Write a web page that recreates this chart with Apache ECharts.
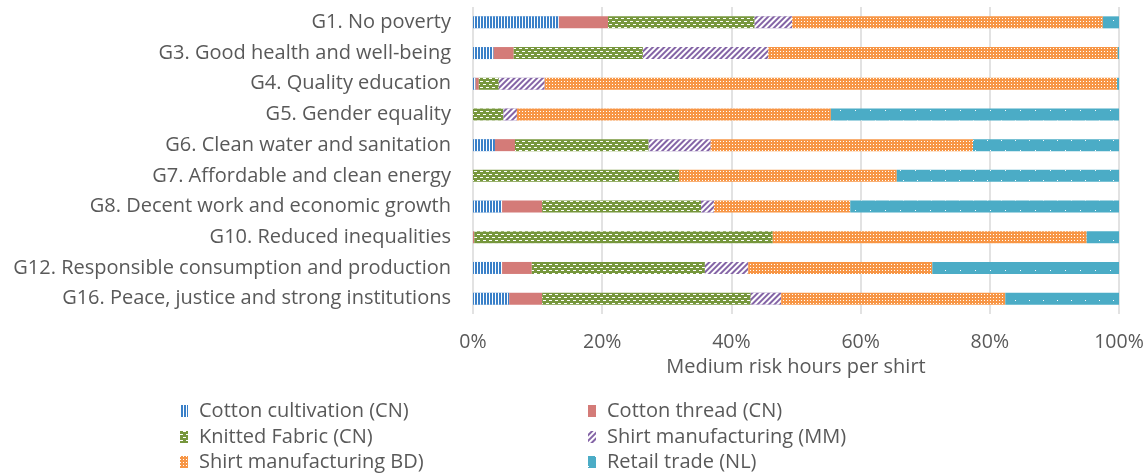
<!DOCTYPE html>
<html><head><meta charset="utf-8">
<script src="https://cdn.jsdelivr.net/npm/echarts@6/dist/echarts.min.js"></script>
<style>html,body{margin:0;padding:0;background:#fff;}#c{width:1148px;height:473px;}</style>
</head><body><div id="c"></div>
<script>
const categories = ["G1. No poverty","G3. Good health and well-being","G4. Quality education","G5. Gender equality","G6. Clean water and sanitation","G7. Affordable and clean energy","G8. Decent work and economic growth","G10. Reduced inequalities","G12. Responsible consumption and production","G16. Peace, justice and strong institutions"];
const cottonCultivation = [13.3, 3.2, 0.4, 0, 3.4, 0, 4.5, 0, 4.5, 5.6];
const cottonThread      = [7.6, 3.1, 0.5, 0, 3.1, 0, 6.2, 0.2, 4.6, 5.1];
const knittedFabric     = [22.7, 20.0, 3.1, 4.7, 20.7, 31.9, 24.6, 46.2, 26.8, 32.3];
const shirtMM           = [5.8, 19.4, 7.1, 2.1, 9.6, 0, 2.0, 0, 6.7, 4.7];
const shirtBD           = [48.1, 54.1, 88.6, 48.6, 40.6, 33.7, 21.1, 48.6, 28.5, 34.7];
const retailNL          = [2.5, 0.2, 0.3, 44.6, 22.6, 34.4, 41.6, 5.0, 28.9, 17.6];
const xTicks = [0, 20, 40, 60, 80, 100];
const seriesNames = ["Cotton cultivation (CN)","Cotton thread (CN)","Knitted Fabric (CN)","Shirt manufacturing (MM)","Shirt manufacturing BD)","Retail trade (NL)"];

const FONT = '"Open Sans", sans-serif';
const TXT = '#595959';
const styles = [
  {color:'#3a80c8', decal:{symbol:'rect', symbolSize:1, color:'#ffffff', dashArrayX:[1,2], dashArrayY:[10,0], rotation:0}},
  {color:'#d47b78'},
  {color:'#77973d', decal:{symbol:'rect', symbolSize:1, color:'#ffffff', dashArrayX:[[3,3],[0,3,3,0]], dashArrayY:[1,2], rotation:0}},
  {color:'#8464a6', decal:{symbol:'rect', symbolSize:1, color:'#ffffff', dashArrayX:[2,2], dashArrayY:[10,0], rotation:Math.PI/4}},
  {color:'#f79646', decal:{symbol:'rect', symbolSize:1, color:'#ffffff', dashArrayX:[1,2], dashArrayY:[1,2], rotation:0}},
  {color:'#4bacc6', decal:{symbol:'rect', symbolSize:1, color:'#ffffff', dashArrayX:[[1,14],[0,7,1,6]], dashArrayY:[1,9], rotation:0}}
];
const dataArr = [cottonCultivation, cottonThread, knittedFabric, shirtMM, shirtBD, retailNL];

const series = seriesNames.map((n,i)=>({
  name:n, type:'bar', stack:'s', barWidth:12,
  data:dataArr[i],
  itemStyle:Object.assign({}, styles[i]),
  emphasis:{disabled:true}
}));

const legPos = [[180,401],[588,401],[180,427],[588,427],[180,452],[588,452]];
const legend = seriesNames.map((n,i)=>({
  data:[n], left:legPos[i][0], top:legPos[i][1], itemWidth:8, itemHeight:12, itemGap:6, padding:0,
  textStyle:{fontFamily:FONT, fontSize:20, color:TXT, padding:[0,0,0,6]}, icon:'rect', selectedMode:false
}));

const chart = echarts.init(document.getElementById('c'), null, {renderer:'canvas'});
chart.setOption({
  animation:false,
  grid:{left:473, right:29, top:7, height:307, containLabel:false},
  legend:legend,
  xAxis:{type:'value', min:0, max:100, interval:20,
    axisLabel:{formatter:v=>xTicks.includes(v)?v+'%':'', fontFamily:FONT, fontSize:19.5, color:TXT, margin:18},
    axisLine:{show:false}, axisTick:{show:false},
    splitLine:{lineStyle:{color:'#d9d9d9', width:1.5}},
    name:'Medium risk hours per shirt', nameLocation:'middle', nameGap:43,
    nameTextStyle:{fontFamily:FONT, fontSize:20, color:TXT}},
  yAxis:{type:'category', data:categories, inverse:true,
    axisLine:{show:false}, axisTick:{show:false},
    axisLabel:{fontFamily:FONT, fontSize:20, color:TXT, margin:22}},
  series:series
});
</script></body></html>
